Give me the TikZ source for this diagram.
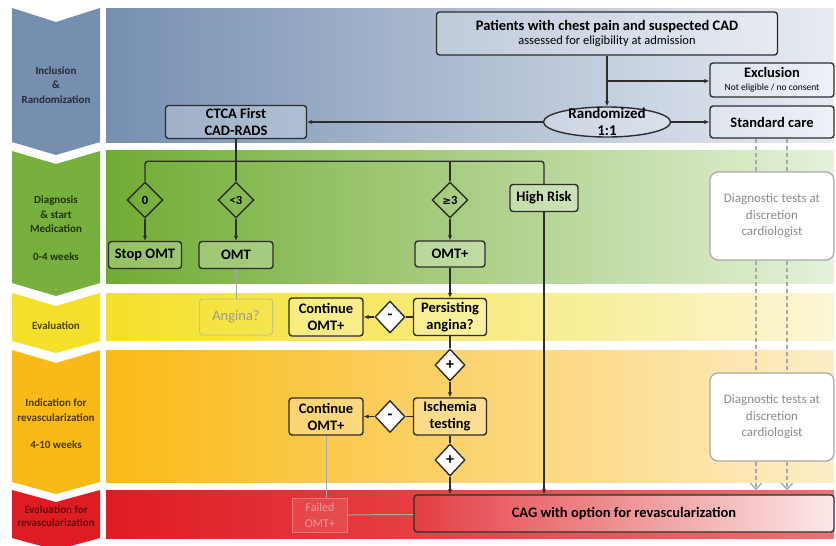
\documentclass[tikz,border=0pt]{standalone}
\usepackage{fontspec}
\setmainfont{Carlito}
\newfontfamily\symfont{DejaVu Sans}
\usepackage{tikz}
\usetikzlibrary{positioning,arrows.meta,shapes.geometric,calc}
\definecolor{incl}{RGB}{118,143,177}
\definecolor{inclr}{RGB}{232,236,243}
\definecolor{diagn}{RGB}{112,172,50}
\definecolor{diagnr}{RGB}{230,241,218}
\definecolor{evalc}{RGB}{244,224,40}
\definecolor{evalr}{RGB}{251,246,214}
\definecolor{indic}{RGB}{250,186,22}
\definecolor{indicr}{RGB}{253,237,200}
\definecolor{revas}{RGB}{222,28,34}
\definecolor{revasr}{RGB}{238,112,114}
\definecolor{ink}{RGB}{45,45,45}
\definecolor{faint}{RGB}{168,168,168}
\definecolor{failed}{RGB}{234,118,120}
\definecolor{failtext}{RGB}{238,155,155}
\tikzset{
    stepbox/.style={rectangle,draw=ink,line width=1.4pt,rounded corners=3pt,fill=white,fill opacity=0.25,text opacity=1,align=center,inner sep=2pt,font=\fontsize{14.5}{17}\selectfont\bfseries},
    choice/.style={diamond,draw=ink,line width=1.4pt,aspect=1,minimum width=36pt,minimum height=36pt,inner sep=0pt,font=\fontsize{12.5}{13}\selectfont\bfseries},
    sign/.style={choice,fill=white,minimum width=30pt,minimum height=32pt,font=\fontsize{16}{16}\selectfont\bfseries},
    diagbox/.style={rectangle,draw=faint,line width=1.2pt,rounded corners=8pt,fill=white,align=center,text=black!45,font=\fontsize{13}{16.5}\selectfont,minimum width=124pt,minimum height=88pt},
    ghostbox/.style={rectangle,draw=faint,densely dotted,line width=1pt,rounded corners=3pt,align=center,text=black!40,font=\fontsize{14.5}{16}\selectfont,inner sep=2pt},
    failbox/.style={rectangle,draw=failed,line width=1pt,fill=white,fill opacity=0.1,text opacity=1,align=center,text=failtext,font=\fontsize{12}{16}\selectfont,inner sep=1pt},
    phase/.style={align=center,font=\fontsize{11}{14.5}\selectfont\bfseries},
    arr/.style={-{Latex[length=5pt,width=4.5pt]},line width=1.4pt,draw=ink},
    link/.style={line width=1.4pt,draw=ink},
    faintline/.style={line width=1pt,draw=faint},
    dashedflow/.style={draw=faint,line width=1.4pt,dash pattern=on 4pt off 3pt},
}
\begin{document}
\begin{tikzpicture}[x=1pt,y=-1pt]
\useasboundingbox (0,0) rectangle (836,546);
\shade[left color=incl,right color=inclr] (106,8) rectangle (834,142);
\shade[left color=diagn,right color=diagnr] (106,150) rectangle (834,283);
\shade[left color=evalc,right color=evalr] (106,293) rectangle (834,340);
\shade[left color=indic,right color=indicr] (106,350) rectangle (834,482);
\shade[left color=revas,right color=revasr] (106,490) rectangle (834,538);

\fill[incl] (12,8) -- (56,22) -- (100,8) -- (100,142) -- (56,155) -- (12,142) -- cycle;
\fill[diagn!95!white] (12,151) -- (56,164) -- (100,151) -- (100,283) -- (56,296) -- (12,283) -- cycle;
\fill[evalc] (12,293) -- (56,306) -- (100,293) -- (100,341) -- (56,353) -- (12,341) -- cycle;
\fill[indic] (12,350) -- (56,363) -- (100,350) -- (100,482) -- (56,494) -- (12,482) -- cycle;
\fill[revas] (12,490) -- (56,502) -- (100,490) -- (100,538) -- (56,550) -- (12,538) -- cycle;

\node[phase,text=incl!30!black] (ph1) at (56,85) {Inclusion\\\&\\Randomization};
\node[phase,text=diagn!30!black] (ph2) at (56,228) {Diagnosis\\\& start\\Medication\\[13pt]0-4 weeks};
\node[phase,text=evalc!30!black] (ph3) at (56,326) {Evaluation};
\node[phase,text=indic!30!black] (ph4) at (56,424) {Indication for\\revascularization\\[13pt]4-10 weeks};
\node[phase,text=revas!45!black] (ph5) at (56,516) {Evaluation for\\[-2pt]revascularization};

\node[stepbox,minimum width=341pt,minimum height=43pt] (pat) at (607,33.5) {Patients with chest pain and suspected CAD\\[-3pt]{\fontsize{12.5}{13}\selectfont\mdseries assessed for eligibility at admission}};
\node[stepbox,minimum width=124pt,minimum height=34pt] (excl) at (772,80) {Exclusion\\[-4pt]{\fontsize{9.5}{10}\selectfont\mdseries Not eligible / no consent}};
\node[stepbox,minimum width=124pt,minimum height=32pt] (std) at (772,122) {Standard care};
\node[ellipse,draw=ink,line width=1.4pt,fill=white,fill opacity=0.25,text opacity=1,minimum width=127pt,minimum height=30pt,inner sep=-6pt,align=center,font=\fontsize{15}{17}\selectfont\bfseries] (rand) at (607,122) {Randomized\\1:1};
\node[stepbox,minimum width=141pt,minimum height=33pt] (ctca) at (236,122) {CTCA First\\CAD-RADS};

\node[choice] (d0) at (145,200) {0};
\node[choice] (d3l) at (236,200) {<3};
\node[choice] (d3g) at (450,200) {{\symfont\fontsize{10.5}{13}\selectfont ≥}3};
\node[stepbox,minimum width=68pt,minimum height=27pt] (hr) at (544,198) {High Risk};
\node[stepbox,minimum width=73pt,minimum height=27pt] (stop) at (145,255) {Stop OMT};
\node[stepbox,minimum width=74pt,minimum height=27pt] (omt) at (236,255) {OMT};
\node[stepbox,minimum width=70pt,minimum height=26pt] (omtp) at (450,254) {OMT+};
\node[diagbox] (diag1) at (772,216) {Diagnostic tests at\\discretion\\cardiologist};

\node[ghostbox,minimum width=73pt,minimum height=36pt] (ang) at (236,317) {Angina?};
\node[stepbox,minimum width=74pt,minimum height=38pt] (cont1) at (326,317) {Continue\\OMT+};
\node[sign] (m1) at (390,317) {-};
\node[stepbox,minimum width=73pt,minimum height=37pt] (pers) at (450,317) {Persisting\\angina?};

\node[sign] (p1) at (450,365) {+};
\node[stepbox,minimum width=73pt,minimum height=37pt] (isch) at (450,416.5) {Ischemia\\testing};
\node[sign] (m2) at (390,416.5) {-};
\node[stepbox,minimum width=74pt,minimum height=37pt] (cont2) at (326,416.5) {Continue\\OMT+};
\node[sign] (p2) at (450,460) {+};
\node[diagbox] (diag2) at (772,417) {Diagnostic tests at\\discretion\\cardiologist};

\node[stepbox,fill opacity=1,left color=revas!85!white,right color=revas!10!white,minimum width=420pt,minimum height=37pt] (cag) at (624,513.5) {CAG with option for revascularization};
\node[failbox,minimum width=55pt,minimum height=34pt] (fail) at (320,515) {Failed\\OMT+};

\coordinate (split) at ($(pat.south)!0.5!(rand.north)$);
\coordinate (bus) at ($(ctca.south)+(0,22)$);
\draw[arr] (pat) -- (rand);
\draw[arr] (split) -- (split -| excl.west);
\draw[arr] (rand) -- (std);
\draw[arr] (rand) -- (ctca);
\draw[link] (ctca) -- (d3l);
\draw[link,rounded corners=3pt] (d0.north) |- (bus) -| (hr.north);
\draw[link] (d3g.north) -- (d3g.north |- bus);
\draw[arr] (d0) -- (stop);
\draw[arr] (d3l) -- (omt);
\draw[arr] (d3g) -- (omtp);
\draw[faintline] (omt) -- (ang);
\draw[arr] (omtp) -- (pers);
\draw[link] (pers) -- (m1);
\draw[arr] (m1) -- (cont1);
\draw[link] (pers) -- (p1);
\draw[arr] (p1) -- (isch);
\draw[link] (isch) -- (m2);
\draw[arr] (m2) -- (cont2);
\draw[link] (isch) -- (p2);
\draw[arr] (p2) -- (p2 |- cag.north);
\draw[arr] (hr) -- (hr |- cag.north);
\draw[faintline] (cont2.south) -- (cont2.south |- fail.north);
\draw[faintline] (fail) -- (cag);
\draw[dashedflow] ($(std.south)+(-16,0)$) -- ($(diag1.north)+(-16,0)$);
\draw[dashedflow] ($(std.south)+(15,0)$) -- ($(diag1.north)+(15,0)$);
\draw[dashedflow] ($(diag1.south)+(-16,0)$) -- ($(diag2.north)+(-16,0)$);
\draw[dashedflow] ($(diag1.south)+(15,0)$) -- ($(diag2.north)+(15,0)$);
\draw[dashedflow,-{Straight Barb[length=6pt,width=11pt]}] ($(diag2.south)+(-16,0)$) -- ($(diag2.south |- cag.north)+(-16,-4)$);
\draw[dashedflow,-{Straight Barb[length=6pt,width=11pt]}] ($(diag2.south)+(15,0)$) -- ($(diag2.south |- cag.north)+(15,-4)$);
\end{tikzpicture}
\end{document}
